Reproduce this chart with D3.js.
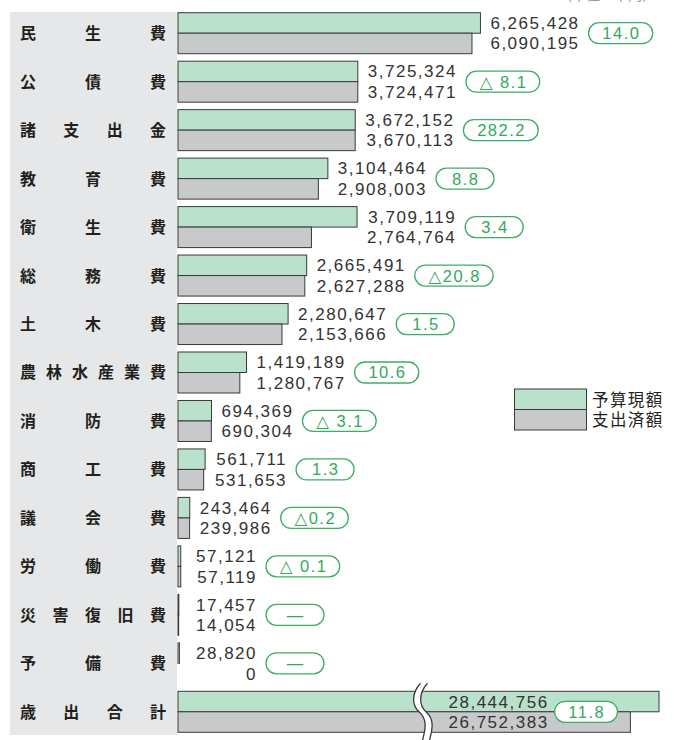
<!DOCTYPE html>
<html>
<head>
<meta charset="utf-8">
<script src="https://cdn.jsdelivr.net/npm/d3@7"></script>
<style>
  body { margin: 0; background: #fff; }
  svg { display: block; }
</style>
</head>
<body>
<div id="chart"></div>
<script>
// 歳出 (単位：千円)
const categories = ['民生費', '公債費', '諸支出金', '教育費', '衛生費', '総務費', '土木費', '農林水産業費',
    '消防費', '商工費', '議会費', '労働費', '災害復旧費', '予備費', '歳出合計'];
const budget = [6265428, 3725324, 3672152, 3104464, 3709119, 2665491, 2280647, 1419189,
    694369, 561711, 243464, 57121, 17457, 28820, 28444756];
const spent = [6090195, 3724471, 3670113, 2908003, 2764764, 2627288, 2153666, 1280767,
    690304, 531653, 239986, 57119, 14054, 0, 26752383];
const changes = ['14.0', '△ 8.1', '282.2', '8.8', '3.4', '△20.8', '1.5', '10.6',
    '△ 3.1', '1.3', '△0.2', '△ 0.1', '—', '—', '11.8'];
const seriesNames = ['予算現額', '支出済額'];
const unitLabel = '（単位：千円）';

class BudgetChart {
    constructor(containerId) {
        this.container = d3.select(`#${containerId}`);
        this.width = 673;
        this.height = 740;
        this.colors = { budget: '#b9e1cc', spent: '#c8c9cb', edge: '#3a3a3a', badge: '#3cae66' };
        this.numFont = "'Liberation Sans', Arial, 'DejaVu Sans', sans-serif";
        this.cjkFont = "'Noto Sans CJK JP', 'Noto Sans', sans-serif";
    }

    render() {
        const { width, height, colors } = this;
        const rows = categories.map((c, i) => ({
            label: c, budget: budget[i], spent: spent[i], change: changes[i],
            total: i === categories.length - 1
        }));

        const svg = this.container.append('svg')
            .attr('width', width)
            .attr('height', height);

        // scales
        const y = d3.scaleBand()
            .domain(categories)
            .range([12.7, 732.3])
            .paddingInner(0.154);
        const x = d3.scaleLinear().domain([0, 7000000]).range([178, 515.9]);
        const xTotal = d3.scaleLinear().domain([0, 30000000]).range([178, 685.3]);
        const half = y.bandwidth() / 2;

        // unit note (cut off at top, like the source page)
        svg.append('text')
            .attr('x', 656).attr('y', -0.5)
            .attr('text-anchor', 'end')
            .style('font-family', this.cjkFont)
            .style('font-size', '14px')
            .style('fill', '#999')
            .text(unitLabel);

        // label panel
        svg.append('rect')
            .attr('x', 10).attr('y', 12)
            .attr('width', 167).attr('height', 723)
            .attr('fill', '#e6e7e8');

        const row = svg.selectAll('.row')
            .data(rows)
            .enter()
            .append('g')
            .attr('class', 'row')
            .attr('transform', d => `translate(0,${y(d.label)})`);

        // category names, spread over the panel width
        row.each(function(d) {
            const chars = Array.from(d.label);
            const step = 130 / (chars.length - 1);
            d3.select(this).selectAll('.cat')
                .data(chars)
                .enter()
                .append('text')
                .attr('class', 'cat')
                .attr('x', (c, i) => 28 + i * step)
                .attr('y', half + 6)
                .attr('text-anchor', 'middle')
                .style('font-family', "'Noto Sans CJK JP', sans-serif")
                .style('font-size', '16px')
                .style('font-weight', 'bold')
                .style('fill', '#231f20')
                .text(c => c);
        });

        const scaleOf = d => d.total ? xTotal : x;

        // bars
        row.append('rect')
            .attr('x', d => scaleOf(d)(0))
            .attr('y', 0)
            .attr('width', d => scaleOf(d)(d.budget) - scaleOf(d)(0))
            .attr('height', half)
            .attr('fill', colors.budget)
            .attr('stroke', colors.edge)
            .attr('stroke-width', 1);

        row.append('rect')
            .attr('x', d => scaleOf(d)(0))
            .attr('y', half)
            .attr('width', d => scaleOf(d)(d.spent) - scaleOf(d)(0))
            .attr('height', half)
            .attr('fill', colors.spent)
            .attr('stroke', colors.edge)
            .attr('stroke-width', 1);

        // break mark on the total bar
        const breakAt = 14400000;
        const totalRow = row.filter(d => d.total);
        const brk = totalRow.append('g')
            .attr('transform', `translate(${xTotal(breakAt)},0)`);
        brk.append('path')
            .attr('d', 'M-1,-8 C-10,2 -10,14 -2,21 C6,28 4,38 1,49 L8,49 C11,38 13,28 5,21 C-3,14 -3,2 6,-8 Z')
            .attr('fill', '#fff');
        [0, 7].forEach(dx => {
            brk.append('path')
                .attr('d', `M${dx - 1},-8 C${dx - 10},2 ${dx - 10},14 ${dx - 2},21 C${dx + 6},28 ${dx + 4},38 ${dx + 1},49`)
                .attr('fill', 'none')
                .attr('stroke', colors.edge)
                .attr('stroke-width', 1.3);
        });

        const numFont = this.numFont;
        const styleNum = sel => sel
            .style('font-family', numFont)
            .style('font-size', '17px')
            .style('letter-spacing', '1.5px');

        // value labels + change badges
        row.each(function(d) {
            const g = d3.select(this);
            const sx = scaleOf(d);
            const top = g.append('text').attr('y', half / 2 + 6).call(styleNum)
                .style('fill', '#333').text(d3.format(',')(d.budget));
            const bot = g.append('text').attr('y', half * 1.5 + 6).call(styleNum)
                .style('fill', '#333').text(d3.format(',')(d.spent));
            const w = Math.max(top.node().getComputedTextLength(), bot.node().getComputedTextLength());
            const start = d.total
                ? xTotal(breakAt) + 27
                : Math.max(196, Math.max(sx(d.budget), sx(d.spent)) + 10);
            const right = start + w;
            top.attr('x', right).attr('text-anchor', 'end');
            bot.attr('x', right).attr('text-anchor', 'end');

            const badge = g.append('g');
            const rect = badge.append('rect');
            const label = badge.append('text')
                .attr('y', half + 6)
                .attr('text-anchor', 'middle')
                .call(styleNum)
                .style('font-size', '16.5px')
                .style('fill', '#34a85e')
                .text(d.change);
            const bw = Math.max(58, label.node().getComputedTextLength() + 26);
            const bx = right + (d.total ? 6 : 9);
            rect.attr('x', bx).attr('y', half - 10.5)
                .attr('width', bw).attr('height', 21)
                .attr('rx', 10.5)
                .attr('fill', '#fff')
                .attr('stroke', colors.badge)
                .attr('stroke-width', 1.3);
            label.attr('x', bx + bw / 2 + 0.75);
        });

        // legend
        const legend = svg.append('g')
            .attr('class', 'legend')
            .attr('transform', 'translate(514.5,389)');
        const items = legend.selectAll('.legend-item')
            .data(seriesNames)
            .enter()
            .append('g')
            .attr('class', 'legend-item')
            .attr('transform', (d, i) => `translate(0,${i * 20.5})`);
        items.append('rect')
            .attr('width', 72)
            .attr('height', 20.5)
            .attr('fill', (d, i) => i === 0 ? colors.budget : colors.spent)
            .attr('stroke', colors.edge)
            .attr('stroke-width', 1);
        items.append('text')
            .attr('x', 77.5)
            .attr('y', 16.5)
            .style('font-family', this.cjkFont)
            .style('font-size', '16.5px')
            .style('letter-spacing', '1.4px')
            .style('fill', '#231f20')
            .text(d => d);
    }
}

const chart = new BudgetChart('chart');
chart.render();
</script>
</body>
</html>
